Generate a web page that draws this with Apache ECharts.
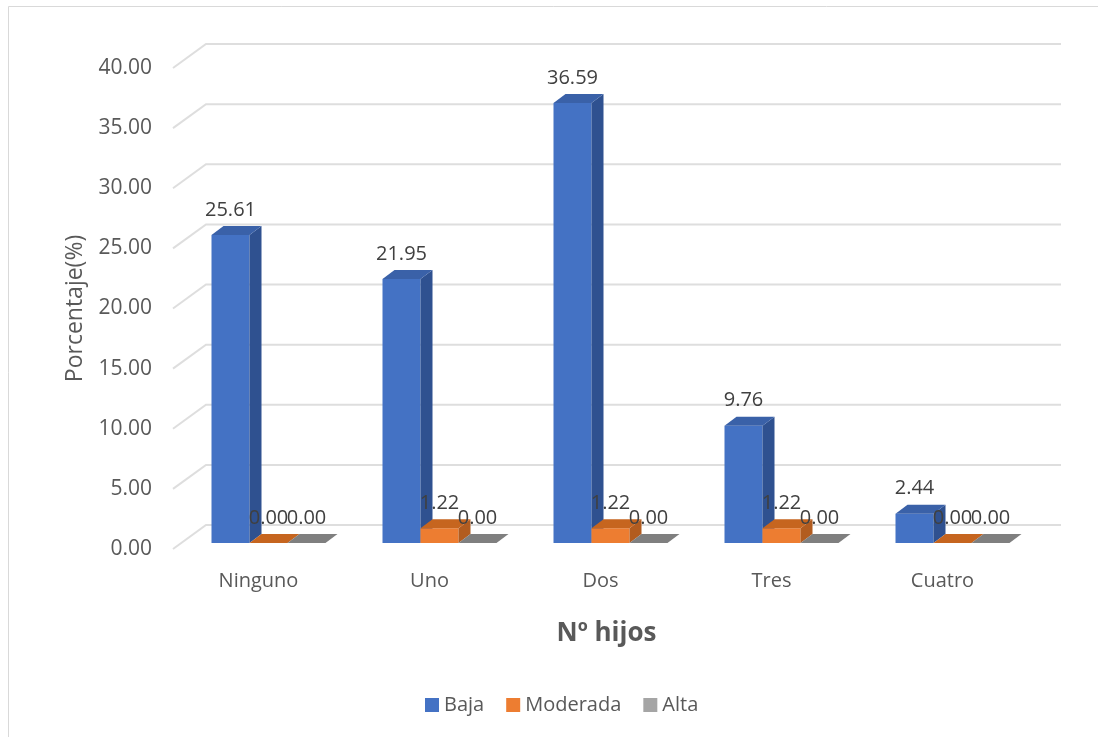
<!DOCTYPE html>
<html>
<head>
<meta charset="utf-8">
<script src="https://cdn.jsdelivr.net/npm/echarts@6/dist/echarts.min.js"></script>
<style>
  html, body { margin: 0; padding: 0; background: #ffffff; }
  #chart { width: 1098px; height: 737px; }
</style>
</head>
<body>
<div id="chart"></div>
<script>
// Distribución por número de hijos
const categories = ['Ninguno', 'Uno', 'Dos', 'Tres', 'Cuatro'];
const seriesNames = ['Baja', 'Moderada', 'Alta'];
const baja = [25.61, 21.95, 36.59, 9.76, 2.44];
const moderada = [0.00, 1.22, 1.22, 1.22, 0.00];
const alta = [0.00, 0.00, 0.00, 0.00, 0.00];
const yMin = 0, yMax = 40, yStep = 5;
const yTicks = [0, 5, 10, 15, 20, 25, 30, 35, 40];

const FONT = '"Open Sans", "Noto Sans", sans-serif';
const TEXT = '#595959';

// face colours: front, side, top
const palette = {
  Baja:     { front: '#4472C4', side: '#2F5190', top: '#3A61A8' },
  Moderada: { front: '#ED7D31', side: '#B25C1F', top: '#C6651F' },
  Alta:     { front: '#A5A5A5', side: '#7A7A7A', top: '#7F7F7F' }
};

// pseudo-3D geometry (pixels)
const WALL_DX = 33, WALL_DY = -24;   // depth of the back wall
const BAR_DX = 8, BAR_DY = -6;       // bars sit slightly behind the front plane
const DEPTH_DX = 12, DEPTH_DY = -9;  // thickness of each bar

const chart = echarts.init(document.getElementById('chart'));

function wallItem(params, api) {
  const cs = params.coordSys;
  const y = api.coord([0, api.value(0)])[1];
  const x0 = cs.x, x1 = cs.x + cs.width;
  return {
    type: 'polyline',
    silent: true,
    shape: { points: [[x0, y], [x0 + WALL_DX, y + WALL_DY], [x1 + WALL_DX, y + WALL_DY]] },
    style: { stroke: '#DEDEDE', lineWidth: 2, fill: null }
  };
}

function barRenderer(sIdx, colors) {
  return function (params, api) {
    const idx = api.value(0);
    const v = api.value(1);
    const band = api.size([1, 0])[0];
    const bw = band * 38 / 171;
    const base = api.coord([idx, 0]);
    const topY = api.coord([idx, v])[1] + BAR_DY;
    const botY = base[1] + BAR_DY;
    const x0 = base[0] - band * 55 / 171 + sIdx * bw + BAR_DX;
    const x1 = x0 + bw;
    const children = [];
    if (botY - topY > 0.3) {
      children.push({
        type: 'rect',
        shape: { x: x0, y: topY, width: bw, height: botY - topY },
        style: { fill: colors.front }
      });
      children.push({
        type: 'polygon',
        shape: { points: [[x1, botY], [x1, topY], [x1 + DEPTH_DX, topY + DEPTH_DY], [x1 + DEPTH_DX, botY + DEPTH_DY]] },
        style: { fill: colors.side }
      });
    }
    children.push({
      type: 'polygon',
      shape: { points: [[x0, topY], [x1, topY], [x1 + DEPTH_DX, topY + DEPTH_DY], [x0 + DEPTH_DX, topY + DEPTH_DY]] },
      style: { fill: colors.top }
    });
    children.push({
      type: 'text',
      style: {
        x: x0 + bw / 2, y: topY - 25,
        text: v.toFixed(2),
        align: 'center', verticalAlign: 'middle',
        fill: '#404040', font: '20px ' + FONT
      }
    });
    return { type: 'group', children: children };
  };
}

const valueSets = [baja, moderada, alta];
const barSeries = seriesNames.map(function (name, s) {
  return {
    name: name,
    type: 'custom',
    renderItem: barRenderer(s, palette[name]),
    itemStyle: { color: palette[name].front },
    encode: { x: 0, y: 1 },
    data: valueSets[s].map(function (v, i) { return [i, v]; }),
    z: 3 + s
  };
});

const option = {
  backgroundColor: '#ffffff',
  animation: false,
  graphic: [{
    type: 'rect',
    shape: { x: 8.5, y: 6.5, width: 1200, height: 1000 },
    style: { fill: null, stroke: '#D9D9D9', lineWidth: 1 },
    silent: true
  }],
  grid: { left: 173, right: 70, top: 68, bottom: 188 },
  legend: {
    data: seriesNames,
    left: 420, top: 690,
    itemWidth: 14, itemHeight: 14, itemGap: 22,
    icon: 'rect',
    textStyle: { color: TEXT, fontSize: 20, fontFamily: FONT }
  },
  xAxis: {
    type: 'category',
    data: categories,
    axisLine: { show: false },
    axisTick: { show: false },
    axisLabel: { color: TEXT, fontSize: 20, fontFamily: FONT, margin: 22 },
    name: 'Nº hijos',
    nameLocation: 'middle',
    nameGap: 72,
    nameTextStyle: { color: TEXT, fontSize: 26, fontWeight: 'bold', fontFamily: FONT, padding: [0, 0, 0, 12] }
  },
  yAxis: {
    type: 'value',
    min: yMin, max: yMax, interval: yStep,
    axisLine: { show: false },
    axisTick: { show: false },
    splitLine: { show: false },
    axisLabel: {
      color: TEXT, fontSize: 21, fontFamily: FONT, margin: 21,
      formatter: function (v) { return v.toFixed(2); }
    },
    name: 'Porcentaje(%)',
    nameLocation: 'middle',
    nameGap: 86,
    nameTextStyle: { color: TEXT, fontSize: 23, fontFamily: FONT }
  },
  series: [{
    type: 'custom',
    renderItem: wallItem,
    silent: true,
    encode: { y: 0 },
    data: yTicks.map(function (t) { return [t]; }),
    z: 1
  }].concat(barSeries)
};

chart.setOption(option);
</script>
</body>
</html>
